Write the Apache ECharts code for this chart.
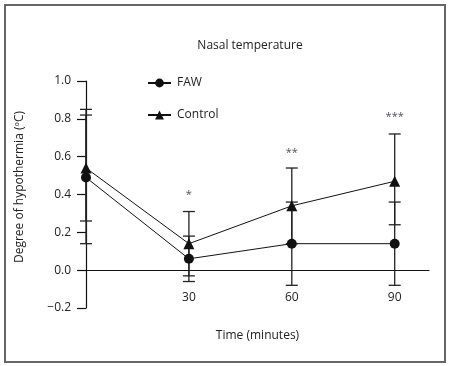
<!DOCTYPE html>
<html>
<head>
<meta charset="utf-8">
<script src="https://cdn.jsdelivr.net/npm/echarts@6/dist/echarts.min.js"></script>
<style>
    html, body { margin: 0; padding: 0; background: #fff; }
    #main { width: 454px; height: 366px; }
</style>
</head>
<body>
<div id="main"></div>
<script type="text/javascript">
    // minutes after start
    var time = [0, 30, 60, 90];
    var faw = [0.49, 0.06, 0.14, 0.14];
    var fawHi = [0.82, 0.18, 0.36, 0.36];
    var fawLo = [0.14, -0.06, -0.08, -0.08];
    var control = [0.54, 0.14, 0.34, 0.47];
    var controlHi = [0.85, 0.31, 0.54, 0.72];
    var controlLo = [0.26, -0.03, 0.14, 0.24];
    // significance marks
    var sigX = [30, 60, 90];
    var sigY = [0.40, 0.62, 0.81];
    var sigText = ['*', '**', '***'];

    var font = '"Open Sans", "Noto Sans", sans-serif';
    var ink = '#111';

    function pairs(ys) {
        var out = [];
        for (var i = 0; i < time.length; i++) out.push([time[i], ys[i]]);
        return out;
    }
    function bars(hi, lo) {
        var out = [];
        for (var i = 0; i < time.length; i++) out.push([time[i], hi[i], lo[i]]);
        return out;
    }
    function errorBar(params, api) {
        var top = api.coord([api.value(0), api.value(1)]);
        var bot = api.coord([api.value(0), api.value(2)]);
        var w = 6;
        var st = { stroke: '#222', lineWidth: 1.3 };
        return {
            type: 'group',
            children: [
                { type: 'line', shape: { x1: top[0], y1: top[1], x2: bot[0], y2: bot[1] }, style: st },
                { type: 'line', shape: { x1: top[0] - w, y1: top[1], x2: top[0] + w, y2: top[1] }, style: st },
                { type: 'line', shape: { x1: bot[0] - w, y1: bot[1], x2: bot[0] + w, y2: bot[1] }, style: st }
            ]
        };
    }
    var sigData = [];
    for (var i = 0; i < sigX.length; i++) sigData.push({ value: [sigX[i], sigY[i]], label: { formatter: sigText[i] } });

    var chart = echarts.init(document.getElementById('main'));
    chart.setOption({
        animation: false,
        title: {
            text: 'Nasal temperature',
            left: 245, top: 35,
            textAlign: 'center',
            textStyle: { fontFamily: font, fontSize: 12, fontWeight: 'normal', color: '#222' }
        },
        legend: {
            data: ['FAW', 'Control'],
            orient: 'vertical',
            left: 142, top: 72,
            itemWidth: 23, itemHeight: 11, itemGap: 20,
            textStyle: { fontFamily: font, fontSize: 12, color: '#222', padding: [0, 0, 0, 1] }
        },
        grid: { left: 86, right: 25, top: 81, bottom: 58, outerBoundsMode: 'none', containLabel: false },
        xAxis: {
            type: 'value',
            min: 0, max: 100, interval: 30,
            name: 'Time (minutes)',
            nameLocation: 'middle',
            nameGap: 22,
            nameMoveOverlap: false,
            nameTextStyle: { fontFamily: font, fontSize: 12, color: '#222' },
            axisLine: { onZero: true, lineStyle: { color: ink, width: 1.2 } },
            axisTick: { show: false },
            splitLine: { show: false },
            axisLabel: {
                margin: -16,
                fontFamily: font, fontSize: 12, color: '#222',
                formatter: function (v) { return (v === 0 || v === 100) ? '' : String(v); }
            }
        },
        yAxis: {
            type: 'value',
            min: -0.2, max: 1.0, interval: 0.2,
            name: 'Degree of hypothermia (ºC)',
            nameLocation: 'middle',
            nameRotate: 90,
            nameGap: 60,
            nameMoveOverlap: false,
            nameTextStyle: { fontFamily: font, fontSize: 12, color: '#222', padding: [0, 0, 0, 15] },
            axisLine: { show: true, lineStyle: { color: ink, width: 1.2 } },
            axisTick: { show: true, length: 9, lineStyle: { color: ink, width: 1.2 } },
            splitLine: { show: false },
            axisLabel: {
                margin: 15,
                fontFamily: font, fontSize: 12, color: '#222',
                formatter: function (v) { return (v < -1e-9 ? '\u2212' : '') + Math.abs(v).toFixed(1); }
            }
        },
        graphic: [{
            type: 'rect',
            shape: { x: 5, y: 5, width: 440, height: 357 },
            style: { fill: 'none', stroke: '#666', lineWidth: 2 },
            silent: true
        }],
        series: [
            {
                type: 'custom', name: 'FAW err', renderItem: errorBar,
                data: bars(fawHi, fawLo), z: 1
            },
            {
                type: 'custom', name: 'Control err', renderItem: errorBar,
                data: bars(controlHi, controlLo), z: 1
            },
            {
                name: 'FAW', type: 'line', data: pairs(faw),
                symbol: 'circle', symbolSize: 10,
                itemStyle: { color: ink },
                lineStyle: { color: ink, width: 1 }, z: 3
            },
            {
                name: 'Control', type: 'line', data: pairs(control),
                symbol: 'triangle', symbolSize: 11,
                itemStyle: { color: ink },
                lineStyle: { color: ink, width: 1 }, z: 3
            },
            {
                type: 'scatter', name: 'sig', data: sigData,
                symbolSize: 1, itemStyle: { color: 'rgba(0,0,0,0)' },
                label: { show: true, position: 'inside', fontFamily: font, fontSize: 11, color: '#223' }
            }
        ]
    });
</script>
</body>
</html>
